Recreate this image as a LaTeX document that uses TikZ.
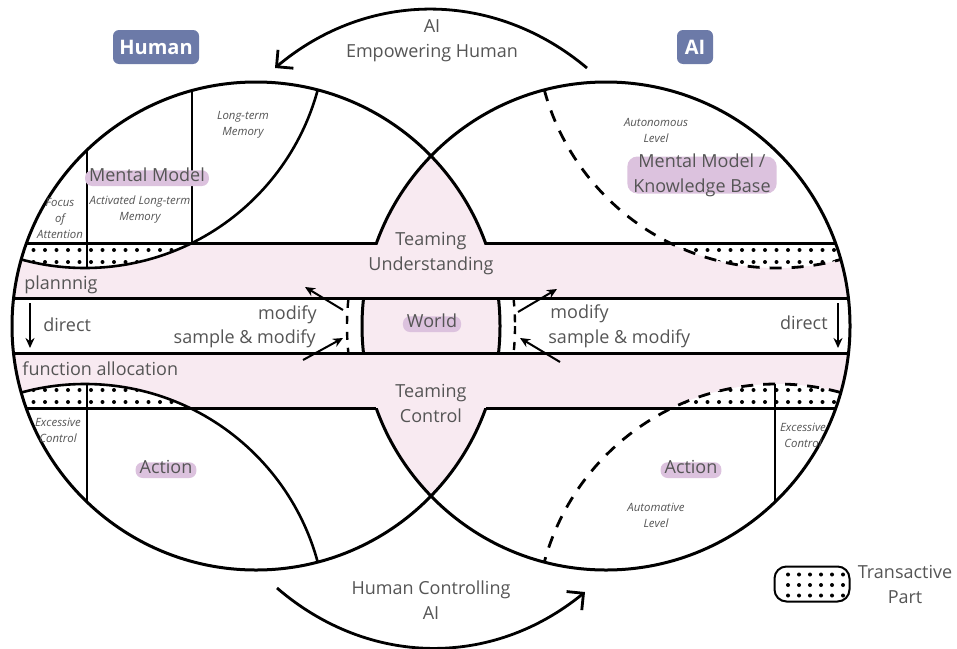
\documentclass[tikz,border=0pt]{standalone}
\usepackage{fontspec}
\setmainfont{Open Sans}
\usepackage{tikz}
\usetikzlibrary{arrows.meta, positioning}

\definecolor{bandpink}{HTML}{F8EAF1}
\definecolor{hlpink}{HTML}{DCC2DE}
\definecolor{boxblue}{HTML}{6C7AA8}
\definecolor{labelgray}{HTML}{555555}

\begin{document}
\begin{tikzpicture}[
  x=0.5pt, y=-0.5pt,
  ring/.style={line width=1.5pt},
  thinrule/.style={line width=0.7pt},
  dashring/.style={line width=1.4pt, dash pattern=on 6pt off 5pt},
  worldrim/.style={line width=1.2pt, dash pattern=on 4pt off 4pt},
  txt/.style={text=labelgray, font=\fontsize{9}{12.5}\selectfont, align=center, inner sep=0pt},
  smalltxt/.style={text=labelgray, font=\itshape\fontsize{5.7}{8}\selectfont, align=center, inner sep=0pt},
  hltxt/.style={txt, fill=hlpink, rounded corners=3.5pt, inner xsep=2pt, text height=1ex, text depth=2.5pt},
  rolebox/.style={fill=boxblue, text=white, font=\bfseries\fontsize{10}{12}\selectfont,
                  rounded corners=3pt, minimum height=17pt, inner sep=0pt},
  bigarrow/.style={line width=1.4pt, -{Straight Barb[length=6pt,width=12pt]}},
  smallarrow/.style={line width=1pt, -{Stealth[length=5pt,width=4.5pt]}}
]
\fill[white, use as bounding box] (0,0) rectangle (957,648);

\coordinate (Lc) at (256,326);
\coordinate (Rc) at (606,326);

% pink areas
\begin{scope}
  \clip (Lc) circle (244);
  \fill[bandpink] (Rc) circle (244);
\end{scope}
\begin{scope}
  \clip (Lc) circle (244) (Rc) circle (244);
  \fill[bandpink] (0,243) rectangle (957,298);
  \fill[bandpink] (0,353) rectangle (957,408);
\end{scope}

% transactive parts
\begin{scope}
  \clip (Lc) circle (244);
  \clip (85,27) circle (241);
  \begin{scope}
    \clip (0,243) rectangle (957,320);
    \fill[white] (0,243) rectangle (957,320);
    \foreach \x in {22,33.5,...,200}
      \foreach \y in {250,262}
        \fill (\x,\y) circle (2);
  \end{scope}
  \draw[thinrule] (87,0) -- (87,330) (192,0) -- (192,330);
\end{scope}
\begin{scope}
  \clip (Lc) circle (244);
  \clip (85,625) circle (241);
  \begin{scope}
    \clip (0,330) rectangle (957,408);
    \fill[white] (0,330) rectangle (957,408);
    \foreach \x in {22,33.5,...,200}
      \foreach \y in {390,402}
        \fill (\x,\y) circle (2);
  \end{scope}
  \draw[thinrule] (87,330) -- (87,648);
\end{scope}
\begin{scope}
  \clip (Rc) circle (244);
  \clip (777,27) circle (241);
  \clip (0,243) rectangle (957,320);
  \fill[white] (0,243) rectangle (957,320);
  \foreach \x in {650,661.5,...,850}
    \foreach \y in {250,262}
      \fill (\x,\y) circle (2);
\end{scope}
\begin{scope}
  \clip (Rc) circle (244);
  \clip (777,625) circle (241);
  \begin{scope}
    \clip (0,330) rectangle (957,408);
    \fill[white] (0,330) rectangle (957,408);
    \foreach \x in {650,661.5,...,850}
      \foreach \y in {390,402}
        \fill (\x,\y) circle (2);
  \end{scope}
  \draw[thinrule] (775,330) -- (775,648);
\end{scope}

% circles; the lens arcs are hidden inside the bands
\draw[ring] (Lc) circle (244);
\draw[ring] (Rc) circle (244);
\fill[bandpink] (300,244.5) rectangle (560,297);
\fill[bandpink] (300,354) rectangle (560,407.5);

% band edges
\begin{scope}
  \clip (Lc) circle (244) (Rc) circle (244);
  \draw[ring] (0,243) -- (376.5,243) (485.5,243) -- (957,243);
  \draw[ring] (0,298) -- (957,298) (0,353) -- (957,353);
  \draw[ring] (0,408) -- (376.2,408) (485.8,408) -- (957,408);
\end{scope}

% mental model / action boundaries
\begin{scope}
  \clip (Lc) circle (244);
  \draw[ring, line width=1.3pt] (85,27) circle (241);
  \draw[ring, line width=1.3pt] (85,625) circle (241);
\end{scope}
\begin{scope}
  \clip (Rc) circle (244);
  \draw[dashring] (777,27) circle (241);
  \draw[dashring] (777,625) circle (241);
\end{scope}

% world rims
\begin{scope}
  \clip (300,298) rectangle (560,353);
  \draw[worldrim] (Rc) circle (259);
  \draw[worldrim] (Lc) circle (259);
\end{scope}

% labels
\node[rolebox, minimum width=43pt] (human) at (156,47) {Human};
\node[rolebox, minimum width=18pt] (ai) at (695,47) {AI};

\node[txt] (empower) at (432,41) {AI\\Empowering Human};
\node[txt] (control) at (431,600) {Human Controlling\\AI};
\node[txt] (understand) at (431,254) {Teaming\\Understanding};
\node[txt] (teamctl) at (431,403) {Teaming\\Control};
\node[hltxt, anchor=base] (world) at (432,327) {World};

\node[txt, anchor=base west] (plan) at (24,289) {plannnig};
\node[txt, anchor=base west] (alloc) at (22,375) {function allocation};
\node[txt, anchor=base west] (directL) at (43,331) {direct};
\node[txt, anchor=base east] (directR) at (828,329) {direct};
\node[txt, anchor=base east] (modL) at (317,319) {modify};
\node[txt, anchor=base east] (sampL) at (316,343) {sample \& modify};
\node[txt, anchor=base west] (modR) at (550,318) {modify};
\node[txt, anchor=base west] (sampR) at (548,343) {sample \& modify};

\node[hltxt, anchor=base] (mentalL) at (147,181) {Mental Model};
\node[smalltxt] (ltm) at (243,125) {Long-term\\Memory};
\node[smalltxt] (focus) at (60,218) {Focus\\of\\Attention};
\node[smalltxt] (altm) at (140,210) {Activated Long-term\\Memory};
\node[smalltxt] (excL) at (58,430) {Excessive\\Control};
\node[hltxt, anchor=base] (actL) at (166,473) {Action};

\node[smalltxt] (autonLv) at (656,130) {Autonomous\\Level};
\node[txt, fill=hlpink, rounded corners=5pt, inner xsep=3pt, inner ysep=-1.5pt] (kb) at (702,175) {Mental Model /\\Knowledge Base};
\node[hltxt, anchor=base] (actR) at (691,473) {Action};
\node[smalltxt] (autoLv) at (656,515) {Automative\\Level};
\node[smalltxt] (excR) at (803,435) {Excessive\\Control};

% legend
\node[draw, line width=1pt, rounded corners=6pt, minimum width=37.5pt, minimum height=17.5pt] (legend) at (812,584) {};
\foreach \x in {788,799,...,843}
  \foreach \y in {574.5,585,595.5}
    \fill (\x,\y) circle (2);
\node[txt, right=3.5pt of legend] (legendtxt) {Transactive\\Part};

% arrows
\coordinate (empFrom) at (587,68);
\coordinate (empTo) at (275,68);
\coordinate (ctlFrom) at (277,588);
\coordinate (ctlTo) at (585,592);
\draw[bigarrow] (empFrom) to[bend right=40] (empTo);
\draw[bigarrow] (ctlFrom) to[bend right=40] (ctlTo);

\coordinate (lmA) at (343,310);
\coordinate (lmB) at (305,287);
\coordinate (lsA) at (303,360);
\coordinate (lsB) at (343,338);
\coordinate (rmA) at (518,312);
\coordinate (rmB) at (557,289);
\coordinate (rsA) at (560,362);
\coordinate (rsB) at (520,338);
\coordinate (ldA) at (30,303);
\coordinate (ldB) at (30,348);
\coordinate (rdA) at (838,303);
\coordinate (rdB) at (838,348);
\draw[smallarrow] (lmA) -- (lmB);
\draw[smallarrow] (lsA) -- (lsB);
\draw[smallarrow] (rmA) -- (rmB);
\draw[smallarrow] (rsA) -- (rsB);
\draw[smallarrow] (ldA) -- (ldB);
\draw[smallarrow] (rdA) -- (rdB);

\end{tikzpicture}
\end{document}
